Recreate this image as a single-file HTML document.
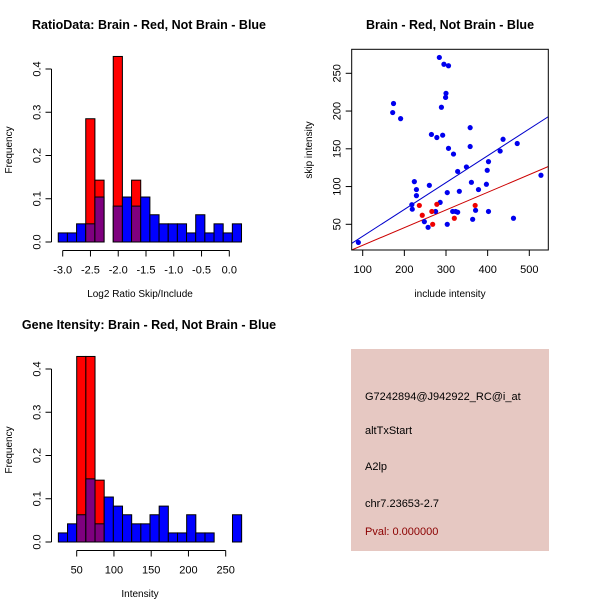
<!DOCTYPE html>
<html><head><meta charset="utf-8"><style>
body{margin:0;background:#fff;}
svg{display:block;font-family:"Liberation Sans",sans-serif;}
</style></head><body>
<svg id="c" width="600" height="600" viewBox="0 0 600 600"></svg>
<script>
// Panel 1: ratio histogram
const ratioStart = -3.08, ratioWidth = 0.165;
const ratioBlue = [0.021,0.021,0.042,0.042,0.104,0,0.083,0.104,0.083,0.104,0.063,0.042,0.042,0.042,0.021,0.063,0.021,0.042,0.021,0.042];
const ratioRed  = [0,0,0,0.285,0.143,0,0.429,0,0.143,0,0,0,0,0,0,0,0,0,0,0];
const ratioXTicks = [-3.0,-2.5,-2.0,-1.5,-1.0,-0.5,0.0];
const freqTicks = [0.0,0.1,0.2,0.3,0.4];
// Panel 3: intensity histogram
const intStart = 25.4, intWidth = 12.3;
const intBlue = [0.021,0.042,0.063,0.146,0.042,0.104,0.083,0.063,0.042,0.042,0.063,0.083,0.021,0.021,0.063,0.021,0.021,0,0,0.063];
const intRed  = [0,0,0.429,0.429,0.143,0,0,0,0,0,0,0,0,0,0,0,0,0,0,0];
const intXTicks = [50,100,150,200,250];
// Panel 2: scatter
const blueX = [89.6,172,174,191,284,295,306,300,299,289,265,278,292,306,318,328,349,358,358,361,437,430,471,402,399,397,378,332,303,260,224,229,229,218,219,248,257,275,286,303,316,323,328,364,371,402,462,528];
const blueY = [26,198,210,190,271,262,260,223.5,218,205,169,165,168,150.6,143,120,126,178,153,105.6,162.6,147,157,133,121.5,103,96,93.7,92,101.6,106.5,96,88,76,70,53.5,46,67,79,50,67,67,66,56.6,68.5,67,58,115];
const redX = [236,243,266,268,278,320,370];
const redY = [75,62,67,50,76.5,58,75];
const fitSlope = [0.3555,0.234];
const fitIntercept = [-1.4,-1.2];
const fitColor = ['#0000cc','#cc0000'];
const scXTicks = [100,200,300,400,500];
const scYTicks = [50,100,150,200,250];

const svg = document.getElementById('c');
const NS = 'http://www.w3.org/2000/svg';
function mk(tag, attrs, parent){const e=document.createElementNS(NS,tag);for(const k in attrs)e.setAttribute(k,attrs[k]);(parent||svg).appendChild(e);return e;}
function txt(s, x, y, attrs, parent){const e=mk('text',Object.assign({x:x,y:y},attrs),parent);e.textContent=s;return e;}

function histogram(name, top, start, width, blue, red, xticks, xfmt, xs0, xs1, v0, v1, title, xlabel){
  const g = mk('g',{});
  
  
  const y0 = top+202, yPer = 432.5;
  const xs = v => xs0 + (v - v0) * (xs1 - xs0) / (v1 - v0);
  const ys = f => y0 - f * yPer;
  for(let i=0;i<blue.length;i++){
    const a=xs(start+i*width), b=xs(start+(i+1)*width);
    const r=red[i], bl=blue[i];
    if(r>0){const e=mk('rect',{x:a,y:ys(r),width:b-a,height:y0-ys(r),fill:'#ff0000',stroke:'#000','stroke-width':1},g);
      
      }
    if(bl>0){const e=mk('rect',{x:a,y:ys(bl),width:b-a,height:y0-ys(bl),fill:r>0?'#7f007f':'#0000ff',stroke:'#000','stroke-width':1},g);
      
      }
  }
  const ax = 51.5;
  mk('line',{x1:ax,y1:ys(0),x2:ax,y2:ys(0.4),stroke:'#000'},g);
  freqTicks.forEach(t=>{mk('line',{x1:ax-6,y1:ys(t),x2:ax,y2:ys(t),stroke:'#000'},g);
    txt(t.toFixed(1),0,0,{transform:`translate(${ax-11},${ys(t)}) rotate(-90)`,'text-anchor':'middle','font-size':11},g);});
  const xy = top+210.5;
  mk('line',{x1:xs(xticks[0]),y1:xy,x2:xs(xticks[xticks.length-1]),y2:xy,stroke:'#000'},g);
  xticks.forEach(t=>{mk('line',{x1:xs(t),y1:xy,x2:xs(t),y2:xy+6,stroke:'#000'},g);
    txt(xfmt(t),xs(t),xy+23,{'text-anchor':'middle','font-size':11},g);});
  const tt=txt(title,149,top-11,{'text-anchor':'middle','font-size':12.5,'font-weight':'bold'},g);
  
  
  txt(xlabel,140,top+257,{'text-anchor':'middle','font-size':10},g);
  txt('Frequency',0,0,{transform:`translate(12,${top+110}) rotate(-90)`,'text-anchor':'middle','font-size':10},g);
}
histogram('ratio-histogram',40,ratioStart,ratioWidth,ratioBlue,ratioRed,ratioXTicks,t=>t.toFixed(1),62.7,229.3,-3,0,'RatioData: Brain - Red, Not Brain - Blue','Log2 Ratio Skip/Include');
histogram('intensity-histogram',340,intStart,intWidth,intBlue,intRed,intXTicks,t=>String(t),76.7,225.7,50,250,'Gene Itensity: Brain - Red, Not Brain - Blue','Intensity');

(function(){
  const g = mk('g',{});
  
  
  const L=351.7,R=548.3,T=49.3,B=250;
  const xs=v=>362.7+(v-100)*(529.3-362.7)/400;
  const ys=v=>224.3-(v-50)*(224.3-73.3)/200;
  const cp = mk('clipPath',{id:'scclip'},g); mk('rect',{x:L,y:T,width:R-L,height:B-T},cp);
  const lg = mk('g',{'clip-path':'url(#scclip)'},g);
  fitSlope.forEach((s,i)=>{const xa=50,xb=600;
    const l=mk('line',{x1:xs(xa),y1:ys(fitIntercept[i]+s*xa),x2:xs(xb),y2:ys(fitIntercept[i]+s*xb),stroke:fitColor[i],'stroke-width':1},lg);
    
    });
  blueX.forEach((x,i)=>{const c=mk('circle',{cx:xs(x),cy:ys(blueY[i]),r:2.6,fill:'#0000ee'},g);
    
    });
  redX.forEach((x,i)=>{const c=mk('circle',{cx:xs(x),cy:ys(redY[i]),r:2.6,fill:'#ee0000'},g);
    
    });
  mk('rect',{x:L,y:T,width:R-L,height:B-T,fill:'none',stroke:'#000'},g);
  scXTicks.forEach(t=>{mk('line',{x1:xs(t),y1:B,x2:xs(t),y2:B+6,stroke:'#000'},g);
    txt(String(t),xs(t),B+23,{'text-anchor':'middle','font-size':11},g);});
  scYTicks.forEach(t=>{mk('line',{x1:L-6,y1:ys(t),x2:L,y2:ys(t),stroke:'#000'},g);
    txt(String(t),0,0,{transform:`translate(${L-11},${ys(t)}) rotate(-90)`,'text-anchor':'middle','font-size':11},g);});
  txt('Brain - Red, Not Brain - Blue',450,29,{'text-anchor':'middle','font-size':12.5,'font-weight':'bold'},g);
  txt('include intensity',450,297,{'text-anchor':'middle','font-size':10},g);
  txt('skip intensity',0,0,{transform:'translate(312,150) rotate(-90)','text-anchor':'middle','font-size':10},g);
})();

(function(){
  const g = mk('g',{});
  
  
  mk('rect',{x:351,y:349,width:198,height:202,fill:'#e6c8c2'},g);
  const lines=[['G7242894@J942922_RC@i_at',400,'#000'],['altTxStart',434,'#000'],['A2lp',470,'#000'],['chr7.23653-2.7',507,'#000'],['Pval: 0.000000',535,'#8b0000']];
  lines.forEach(l=>txt(l[0],365,l[1],{'font-size':11,fill:l[2]},g));
})();
</script>
</body></html>
